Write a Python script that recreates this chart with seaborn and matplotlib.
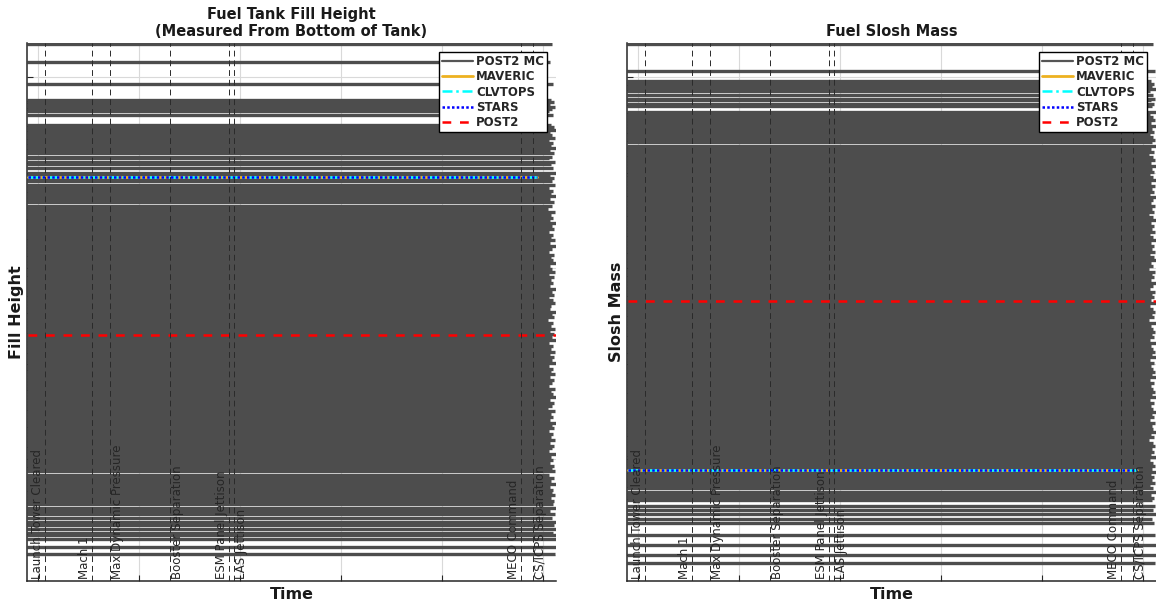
import numpy as np
import pandas as pd
import matplotlib
matplotlib.use("Agg")
import matplotlib.pyplot as plt
from matplotlib.lines import Line2D
from matplotlib.transforms import blended_transform_factory
import seaborn as sns

# ---------------------------------------------------------------- data
# Monte Carlo (POST2 MC) dispersed runs: constant level per run and the
# time at which each run's trajectory ends.
fill_mc_level = [
    63.45, 61.57, 59.27, 57.59, 57.40, 57.20, 56.82, 56.62, 56.42, 56.02,
    54.98, 54.72, 54.45, 54.20, 53.93, 53.65, 53.38, 53.11, 52.85, 52.58,
    52.32, 52.05, 51.62, 51.52, 51.12, 50.91, 50.49, 49.98, 49.70, 49.42,
    49.13, 48.71, 48.41, 48.12, 47.83, 47.53, 47.24, 46.94, 46.48, 46.18,
    45.89, 45.58, 45.29, 44.99, 44.68, 44.40, 44.10, 43.79, 43.50, 43.20,
    42.91, 42.60, 42.31, 42.01, 41.70, 41.42, 41.12, 40.81, 40.52, 40.22,
    39.93, 39.62, 39.33, 39.03, 38.72, 38.44, 38.14, 37.83, 37.54, 37.24,
    36.95, 36.64, 36.35, 36.05, 35.74, 35.46, 35.16, 34.85, 34.56, 34.26,
    33.97, 33.66, 33.37, 33.07, 32.76, 32.48, 32.18, 31.87, 31.58, 31.28,
    30.99, 30.68, 30.39, 30.09, 29.78, 29.50, 29.20, 28.89, 28.60, 28.30,
    28.01, 27.70, 27.41, 27.11, 26.80, 26.52, 26.22, 25.91, 25.62, 25.32,
    25.03, 24.72, 24.43, 24.13, 23.82, 23.54, 23.24, 22.93, 22.64, 22.34,
    22.05, 21.74, 21.45, 21.15, 20.84, 20.56, 20.26, 19.95, 19.66, 19.36,
    19.07, 18.78, 18.36, 18.06, 17.75, 17.46, 17.15, 16.85, 16.55, 16.24,
    15.95, 15.64, 15.38, 14.88, 14.60, 14.33, 13.90, 13.50, 13.10, 12.70,
    12.35, 12.05, 11.65, 10.84, 10.10,
]
fill_mc_end = [
    509, 507, 510, 508, 511, 507, 512, 509, 506, 510,
    508, 511, 513, 507, 509, 512, 506, 510, 508, 513,
    507, 511, 509, 506, 512, 508, 510, 514, 507, 511,
    509, 512, 506, 510, 508, 513, 507, 511, 509, 505,
    512, 508, 510, 507, 513, 509, 511, 506, 510, 508,
    512, 507, 514, 509, 506, 511, 508, 510, 513, 507,
    509, 512, 506, 511, 508, 510, 507, 513, 509, 511,
    506, 510, 512, 508, 507, 513, 509, 511, 505, 510,
    508, 512, 507, 511, 509, 514, 506, 510, 508, 512,
    507, 511, 509, 513, 506, 510, 508, 512, 507, 511,
    509, 506, 512, 508, 510, 513, 507, 511, 509, 505,
    512, 508, 510, 507, 513, 509, 511, 506, 510, 508,
    512, 507, 511, 509, 506, 513, 508, 510, 507, 511,
    509, 512, 506, 511, 508, 514, 507, 510, 509, 512,
    508, 511, 510, 513, 507, 512, 509, 514, 511, 513,
    510, 514, 513, 514, 512,
]

slosh_mc_level = [
    63.45, 60.63, 59.58, 59.30, 59.02, 58.74, 58.54, 58.12, 57.70, 57.60,
    57.18, 56.92, 56.38, 56.08, 55.78, 55.49, 55.18, 54.88, 54.59, 54.28,
    53.98, 53.69, 53.40, 53.20, 52.78, 52.48, 52.18, 51.88, 51.58, 51.28,
    50.98, 50.69, 50.39, 50.09, 49.79, 49.49, 49.19, 48.89, 48.60, 48.30,
    48.00, 47.70, 47.40, 47.10, 46.80, 46.50, 46.21, 45.91, 45.61, 45.31,
    45.01, 44.71, 44.41, 44.11, 43.82, 43.52, 43.22, 42.92, 42.62, 42.32,
    42.02, 41.72, 41.43, 41.13, 40.83, 40.53, 40.23, 39.93, 39.63, 39.33,
    39.04, 38.74, 38.44, 38.14, 37.84, 37.54, 37.24, 36.94, 36.65, 36.35,
    36.05, 35.75, 35.45, 35.15, 34.85, 34.55, 34.26, 33.96, 33.66, 33.36,
    33.06, 32.76, 32.46, 32.16, 31.87, 31.57, 31.27, 30.97, 30.67, 30.37,
    30.07, 29.77, 29.48, 29.18, 28.88, 28.58, 28.28, 27.98, 27.68, 27.38,
    27.09, 26.79, 26.49, 26.19, 25.89, 25.59, 25.29, 24.99, 24.70, 24.40,
    24.10, 23.80, 23.50, 23.20, 22.90, 22.60, 22.31, 22.01, 21.71, 21.41,
    21.11, 20.81, 20.51, 20.21, 19.92, 19.62, 19.32, 19.02, 18.72, 18.42,
    18.12, 17.82, 17.53, 17.23, 17.01, 16.59, 16.30, 16.00, 15.70, 15.12,
    14.70, 14.28, 13.80, 13.38, 12.09, 11.05, 10.00, 9.16,
]
slosh_mc_end = [
    510, 512, 508, 511, 509, 513, 507, 510, 512, 508,
    511, 509, 513, 507, 510, 512, 508, 514, 509, 511,
    507, 510, 512, 509, 513, 508, 511, 506, 510, 512,
    508, 513, 509, 511, 507, 510, 514, 508, 512, 509,
    511, 507, 513, 510, 508, 512, 509, 511, 506, 510,
    513, 508, 511, 509, 512, 507, 510, 514, 508, 511,
    509, 512, 507, 511, 513, 508, 510, 506, 512, 509,
    511, 508, 514, 510, 507, 512, 509, 511, 508, 513,
    507, 510, 512, 509, 511, 506, 513, 508, 510, 512,
    509, 511, 507, 514, 508, 510, 512, 509, 513, 507,
    511, 508, 510, 512, 509, 513, 507, 511, 508, 510,
    512, 509, 514, 507, 511, 508, 510, 513, 509, 511,
    507, 512, 509, 510, 513, 508, 511, 506, 510, 512,
    509, 511, 508, 513, 507, 510, 512, 509, 514, 508,
    511, 509, 512, 507, 510, 513, 508, 511, 509, 512,
    510, 513, 509, 511, 512, 514, 513, 512,
]

mc_start_time = -11.0

# Nominal trajectories from the other simulations
sim_names = ["MAVERIC", "CLVTOPS", "STARS"]
sim_time = [-10.0, 494.0]
post2_time = [-10.0, 513.0]
fill_sim_level = 49.54
fill_post2_level = 33.01
slosh_sim_level = 18.89
slosh_post2_level = 36.57

# Flight events
event_names = ["Launch Tower Cleared", "Mach 1", "Max Dynamic Pressure",
               "Booster Separation", "ESM Panel Jettison", "LAS Jettison",
               "MECO Command", "CS/ICPS Separation"]
event_times = [6.9, 53.5, 71.3, 130.7, 189.1, 194.0, 478.0, 490.0]
event_label_side = ["left", "left", "right", "right",
                    "left", "right", "left", "right"]

time_ticks = [0, 100, 200, 300, 400, 500]
value_ticks = [10, 20, 30, 40, 50, 60]
time_limits = (-11.0, 513.0)
value_limits = (7.28, 63.55)

# ---------------------------------------------------------------- style
sns.set_theme(style="white")
plt.rcParams["font.family"] = ["DejaVu Sans"]

MC_COLOR = "#4d4d4d"
MAV_COLOR = "#EDB120"
CLV_COLOR = "#00FFFF"
STARS_COLOR = "#0000FF"
POST2_COLOR = "#FF0000"
AXIS_COLOR = "#262626"

MC_LW = 2.4
LS_DASHDOT = (0, (4, 1.5, 1, 1.5))
LS_DOT = (0, (1, 0.9))
LS_DASH = (0, (3.5, 3.5))


def draw_panel(ax, mc_level, mc_end, sim_level, post2_level, title, ylabel):
    assert len(mc_level) == len(mc_end)
    rows = []
    for run, (lv, te) in enumerate(zip(mc_level, mc_end)):
        rows.append((run, mc_start_time, lv))
        rows.append((run, te, lv))
    mc = pd.DataFrame(rows, columns=["run", "time", "value"])
    sns.lineplot(data=mc, x="time", y="value", units="run", estimator=None,
                 sort=False, color=MC_COLOR, lw=MC_LW, legend=False, ax=ax,
                 zorder=2, solid_capstyle="butt")

    sim = pd.DataFrame({"time": sim_time, "value": [sim_level] * len(sim_time)})
    sns.lineplot(data=sim, x="time", y="value", color=MAV_COLOR, lw=2.0,
                 ax=ax, zorder=3)
    sns.lineplot(data=sim, x="time", y="value", color=CLV_COLOR, lw=1.8,
                 linestyle=LS_DASHDOT, ax=ax, zorder=3.1)
    sns.lineplot(data=sim, x="time", y="value", color=STARS_COLOR, lw=1.8,
                 linestyle=LS_DOT, ax=ax, zorder=3.2)

    p2 = pd.DataFrame({"time": post2_time, "value": [post2_level] * len(post2_time)})
    sns.lineplot(data=p2, x="time", y="value", color=POST2_COLOR, lw=1.8,
                 linestyle=LS_DASH, ax=ax, zorder=3.3)

    trans = blended_transform_factory(ax.transData, ax.transAxes)
    for name, t, side in zip(event_names, event_times, event_label_side):
        ax.axvline(t, color="#2a2a2a", lw=0.7, ls=(0, (6, 4)), zorder=4)
        if side == "left":
            x, ha = t - 0.8, "right"
        else:
            x, ha = t + 0.8, "left"
        ax.text(x, 0.004, name, transform=trans, rotation=90,
                ha=ha, va="bottom", fontsize=8.5, color=AXIS_COLOR,
                zorder=5)

    ax.set_xlim(*time_limits)
    ax.set_ylim(*value_limits)
    ax.set_xticks(time_ticks)
    ax.set_yticks(value_ticks)
    ax.grid(True, color="#d9d9d9", lw=0.8)
    ax.set_axisbelow(True)
    ax.tick_params(direction="in", length=4, width=0.8, colors=AXIS_COLOR,
                   labelbottom=False, labelleft=False,
                   bottom=True, left=True, top=False, right=False)
    for side in ("top", "right"):
        ax.spines[side].set_visible(False)
    for side in ("left", "bottom"):
        ax.spines[side].set_color(AXIS_COLOR)
        ax.spines[side].set_linewidth(1.1)

    ax.set_title(title, fontweight="bold", fontsize=10.5, pad=5,
                 linespacing=1.2, color="#1a1a1a")
    ax.set_xlabel("Time", fontweight="bold", fontsize=11.5, labelpad=4,
                  color="#1a1a1a")
    ax.set_ylabel(ylabel, fontweight="bold", fontsize=11.5, labelpad=2,
                  color="#1a1a1a")

    handles = [
        Line2D([], [], color="#555555", lw=1.6),
        Line2D([], [], color=MAV_COLOR, lw=2.0),
        Line2D([], [], color=CLV_COLOR, lw=1.8, ls=LS_DASHDOT),
        Line2D([], [], color=STARS_COLOR, lw=1.8, ls=LS_DOT),
        Line2D([], [], color=POST2_COLOR, lw=1.8, ls=LS_DASH),
    ]
    leg = ax.legend(handles, ["POST2 MC"] + sim_names + ["POST2"],
                    loc="upper right", borderaxespad=0.75,
                    prop={"weight": "bold", "size": 8.5},
                    frameon=True, fancybox=False, framealpha=1,
                    edgecolor="black", handlelength=2.6, handletextpad=0.3,
                    labelspacing=0.2, borderpad=0.25)
    leg.get_frame().set_linewidth(1.0)
    leg.set_zorder(10)


fig = plt.figure(figsize=(11.56, 6.04), dpi=100)
ax_fill = fig.add_axes([27 / 1156, 23 / 604, 529 / 1156, 538 / 604])
ax_slosh = fig.add_axes([627 / 1156, 23 / 604, 529 / 1156, 538 / 604])

draw_panel(ax_fill, fill_mc_level, fill_mc_end, fill_sim_level, fill_post2_level,
           "Fuel Tank Fill Height\n(Measured From Bottom of Tank)", "Fill Height")
draw_panel(ax_slosh, slosh_mc_level, slosh_mc_end, slosh_sim_level,
           slosh_post2_level, "Fuel Slosh Mass", "Slosh Mass")

fig.savefig("out.png", dpi=100)
